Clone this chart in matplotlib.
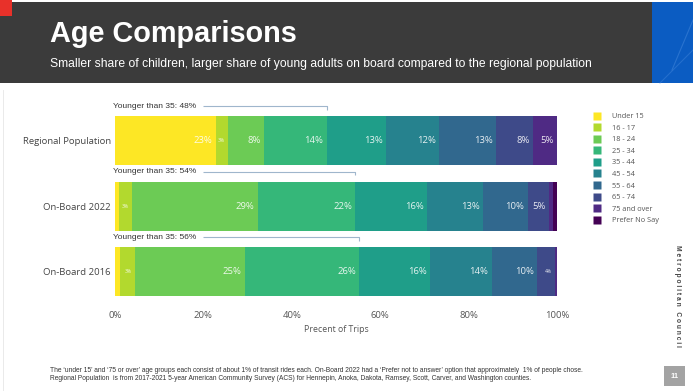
import matplotlib
matplotlib.use("Agg")
import matplotlib.pyplot as plt
from matplotlib.patches import Rectangle
from matplotlib.lines import Line2D
import numpy as np

# ---------------- data ----------------
categories = ["Regional Population", "On-Board 2022", "On-Board 2016"]
age_groups = ["Under 15", "16 - 17", "18 - 24", "25 - 34", "35 - 44", "45 - 54",
              "55 - 64", "65 - 74", "75 and over", "Prefer No Say"]
regional = [22.9, 2.7, 8.1, 14.2, 13.4, 12.1, 12.8, 8.4, 5.4, 0.0]
onboard_2022 = [0.8, 3.0, 28.6, 22.0, 16.2, 12.7, 10.1, 4.9, 0.9, 0.8]
onboard_2016 = [1.2, 3.3, 25.0, 25.8, 16.0, 13.9, 10.3, 4.1, 0.4, 0.0]
younger_labels = ["Younger than 35: 48%", "Younger than 35: 54%", "Younger than 35: 56%"]
xticks = [0, 20, 40, 60, 80, 100]
colors = ["#FDE725", "#B2D92E", "#6CCB55", "#35B779", "#1F9E89", "#26828E",
          "#31688E", "#3E4A89", "#4F2A84", "#440154"]

series = [regional, onboard_2022, onboard_2016]

W, H = 693, 391
fig = plt.figure(figsize=(W / 100, H / 100), dpi=100)
fig.patch.set_facecolor("white")

def px(x, y):
    return x / W, 1 - y / H

# ---------------- header ----------------
fig.add_artist(Rectangle(px(0, 83), 652 / W, 81 / H, transform=fig.transFigure,
                         facecolor="#3b3b3b", edgecolor="none", zorder=0))
fig.add_artist(Rectangle(px(652, 83), 41 / W, 81 / H, transform=fig.transFigure,
                         facecolor="#0b5cc2", edgecolor="none", zorder=0))
fig.add_artist(Line2D([672 / W, 693 / W], [1 - 70 / H, 1 - 20 / H], transform=fig.transFigure,
                      color="#3d82d8", lw=0.8, alpha=0.6))
fig.add_artist(Line2D([660 / W, 693 / W], [1 - 83 / H, 1 - 50 / H], transform=fig.transFigure,
                      color="#3d82d8", lw=0.8, alpha=0.5))
fig.add_artist(Rectangle(px(0, 16), 12 / W, 16 / H, transform=fig.transFigure,
                         facecolor="#e8312a", edgecolor="none", zorder=1))
fig.text(50 / W, 1 - 34 / H, "Age Comparisons", color="white", fontsize=20.8,
         fontweight="bold", family="Liberation Sans", va="center", ha="left")
fig.text(50 / W, 1 - 64 / H,
         "Smaller share of children, larger share of young adults on board compared to the regional population",
         color="white", fontsize=8.7, family="Liberation Sans", va="center", ha="left")

# ---------------- chart ----------------
ax = fig.add_axes([115 / W, 1 - 304.5 / H, 442 / W, 196.5 / H])
ypos = np.arange(len(categories))
bar_h = 0.75
for i, vals in enumerate(series):
    left = 0.0
    for j, v in enumerate(vals):
        if v <= 0:
            continue
        ax.barh(ypos[i], v, left=left, height=bar_h, color=colors[j], edgecolor="none")
        if v >= 2:
            fs = 6.8 if v >= 4.5 else 3.6
            ax.text(left + v - 0.8, ypos[i], f"{v:.0f}%", ha="right", va="center",
                    fontsize=fs, color="white", alpha=0.88, family="Open Sans")
        left += v

ax.set_xlim(0, 100)
ax.set_ylim(2.5, -0.5)
ax.set_yticks(ypos)
ax.set_yticklabels(categories, fontsize=6.8, color="#444444", family="Open Sans")
ax.set_xticks(xticks)
ax.set_xticklabels([f"{t}%" for t in xticks], fontsize=6.8, color="#555555", family="Open Sans")
ax.tick_params(length=0, pad=3)
ax.tick_params(axis="x", pad=5)
ax.set_xlabel("Precent of Trips", fontsize=6.3, color="#555555", family="Open Sans", labelpad=3)
for s in ax.spines.values():
    s.set_visible(False)

# younger-than-35 annotations
fig.canvas.draw()
renderer = fig.canvas.get_renderer()
inv = ax.transData.inverted()
for i, vals in enumerate(series):
    yann = ypos[i] - bar_h / 2 - 0.15
    t = ax.text(-0.5, yann, younger_labels[i], ha="left", va="center", fontsize=6.0,
                color="#333333", family="Liberation Sans", clip_on=False)
    bb = t.get_window_extent(renderer)
    x0 = inv.transform((bb.x1 + 7, bb.y0))[0]
    x1 = sum(vals[:4])
    ax.plot([x0, x1, x1], [yann, yann, yann + 0.05], color="#9fb6cc", lw=0.8,
            clip_on=False, solid_capstyle="butt")

# ---------------- legend ----------------
handles = [Line2D([], [], marker="s", linestyle="none", markersize=5.5,
                  markerfacecolor=c, markeredgecolor="none") for c in colors]
leg = fig.legend(handles, age_groups, loc="upper left", bbox_to_anchor=(593 / W, 1 - 113 / H),
                 frameon=False, fontsize=5.3, handlelength=1.0, handletextpad=1.6,
                 labelspacing=0.6, borderaxespad=0, borderpad=0)
for txt in leg.get_texts():
    txt.set_color("#555555")
    txt.set_family("Open Sans")

# ---------------- side text, footnote, page number ----------------
fig.text(678 / W, 1 - 296 / H, "M e t r o p o l i t a n   C o u n c i l", rotation=-90,
         fontsize=4.8, fontweight="bold", color="#444444", family="Liberation Sans",
         ha="center", va="center")

foot1 = ("The \u2018under 15\u2019 and \u201875 or over\u2019 age groups each consist of about 1% of transit rides each. "
         "On-Board 2022 had a \u2018Prefer not to answer\u2019 option that approximately  1% of people chose.")
foot2 = ("Regional Population  is from 2017-2021 5-year American Community Survey (ACS) for Hennepin, "
         "Anoka, Dakota, Ramsey, Scott, Carver, and Washington counties.")
for k, line in enumerate([foot1, foot2]):
    fig.text(50 / W, 1 - (370 + 9 * k) / H, line, fontsize=4.8, color="#333333",
             family=["Liberation Sans Narrow", "Liberation Sans"], ha="left", va="center")

fig.add_artist(Rectangle(px(664, 386), 21 / W, 20 / H, transform=fig.transFigure,
                         facecolor="#a3a3a3", edgecolor="none"))
fig.text(674.5 / W, 1 - 376 / H, "11", color="white", fontsize=5.5, fontweight="bold",
         family="Liberation Sans", ha="center", va="center")
fig.add_artist(Line2D([3 / W, 3 / W], [0, 1 - 90 / H], transform=fig.transFigure,
                      color="#e6e6e6", lw=0.6))

fig.savefig("out.png", dpi=100)
